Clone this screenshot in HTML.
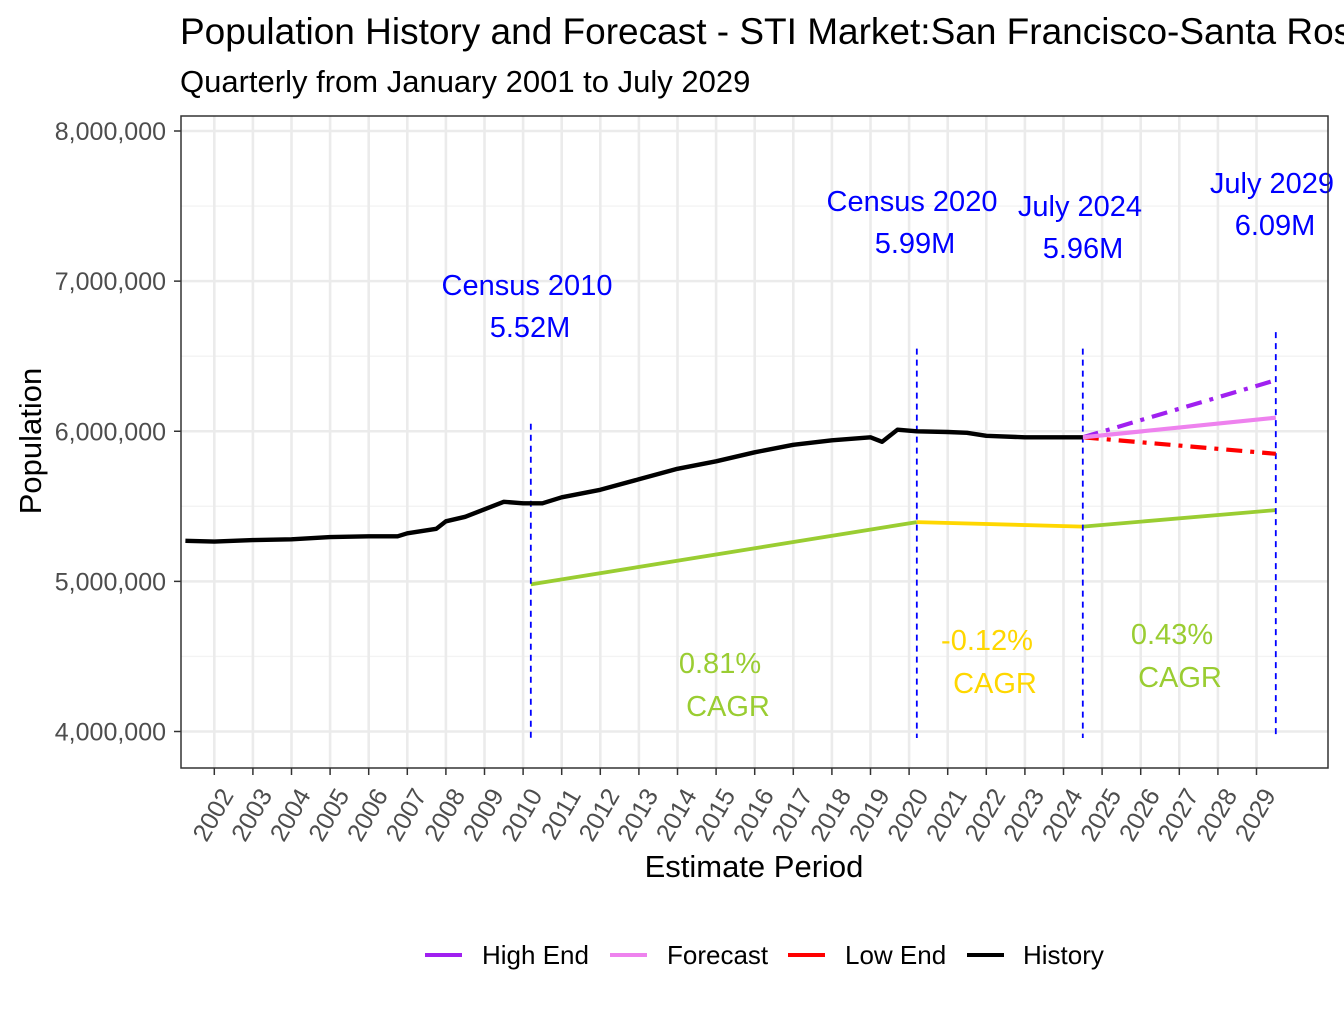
<!DOCTYPE html>
<html><head><meta charset="utf-8"><style>
body{margin:0;background:#fff}
svg text{font-family:"Liberation Sans",Arial,sans-serif}
</style></head><body>
<svg id="chart" width="1344" height="1008" viewBox="0 0 1344 1008" xmlns="http://www.w3.org/2000/svg">
<rect width="1344" height="1008" fill="#fff"/>
<text x="180" y="44" font-size="37" fill="#000">Population History and Forecast - STI Market:San Francisco-Santa Rosa</text>
<text x="180" y="92" font-size="31" fill="#000">Quarterly from January 2001 to July 2029</text>
<g id="grid"></g>
<g id="marks"></g>
<g id="axes"></g>
<rect x="181" y="116" width="1147" height="652" fill="none" stroke="#333" stroke-width="1.5"/>
<text transform="translate(41,441) rotate(-90)" text-anchor="middle" font-size="31" fill="#000">Population</text>
<text x="754" y="877" text-anchor="middle" font-size="31" fill="#000">Estimate Period</text>
<g font-size="26">
<g><line x1="425" y1="955" x2="462" y2="955" stroke="#a020f0" stroke-width="4"/><text x="482" y="964">High End</text></g>
<g><line x1="610" y1="955" x2="647" y2="955" stroke="#ee82ee" stroke-width="4"/><text x="667" y="964">Forecast</text></g>
<g><line x1="788" y1="955" x2="825" y2="955" stroke="#ff0000" stroke-width="4"/><text x="845" y="964">Low End</text></g>
<g><line x1="967" y1="955" x2="1004" y2="955" stroke="#000" stroke-width="4"/><text x="1023" y="964">History</text></g>
</g>
</svg>
<script>
const yTicks=[4000000,5000000,6000000,7000000,8000000];
const yTickLabels=["4,000,000","5,000,000","6,000,000","7,000,000","8,000,000"];
const xYears=[2002,2003,2004,2005,2006,2007,2008,2009,2010,2011,2012,2013,2014,2015,2016,2017,2018,2019,2020,2021,2022,2023,2024,2025,2026,2027,2028,2029];
const histT=[2001.25,2002,2003,2004,2005,2006,2006.75,2007,2007.75,2008,2008.5,2009,2009.5,2010,2010.5,2011,2012,2013,2014,2015,2016,2017,2018,2019,2019.3,2019.7,2020.2,2021,2021.5,2022,2023,2024,2024.5];
const histV=[5.27,5.265,5.275,5.28,5.295,5.30,5.30,5.32,5.35,5.40,5.43,5.48,5.53,5.52,5.52,5.56,5.61,5.68,5.75,5.80,5.86,5.91,5.94,5.96,5.93,6.01,6.00,5.995,5.99,5.97,5.96,5.96,5.96];
const fcT=[2024.5,2029.5];
const forecastV=[5.96,6.09];
const highV=[5.96,6.34];
const lowV=[5.96,5.85];
const cagrT=[2010.2,2020.2,2024.5,2029.5];
const cagrV=[4.98,5.395,5.365,5.475];
const cagrLabels=["0.81%","-0.12%","0.43%"];
const markT=[2010.2,2020.2,2024.5,2029.5];
const markTop=[6.05,6.55,6.55,6.66];
const markTitles=["Census 2010","Census 2020","July 2024","July 2029"];
const markValues=["5.52M","5.99M","5.96M","6.09M"];

const NS="http://www.w3.org/2000/svg";
const X=t=>214.3+(t-2002)*38.6;
const Y=v=>731.5-(v-4000000)*600.5/4000000;
const YM=m=>Y(m*1e6);
function mk(tag,attrs,parent,text){const e=document.createElementNS(NS,tag);for(const k in attrs)e.setAttribute(k,attrs[k]);if(text!==undefined)e.textContent=text;parent.appendChild(e);return e;}
const grid=document.getElementById('grid'),marks=document.getElementById('marks'),axes=document.getElementById('axes');
for(let i=0;i<yTicks.length;i++){
  const y=Y(yTicks[i]);
  const gl=mk('line',{x1:181,x2:1328,y1:y,y2:y,stroke:'#ebebeb','stroke-width':2.6},grid);
  
  
  if(i<yTicks.length-1){const ym=Y((yTicks[i]+yTicks[i+1])/2);
    const mg=mk('line',{x1:181,x2:1328,y1:ym,y2:ym,stroke:'#f3f3f3','stroke-width':1.3},grid);
    
    }
  const tk=mk('line',{x1:174,x2:181,y1:y,y2:y,stroke:'#333','stroke-width':1.5},axes);
  
  
  const tl=mk('text',{x:166,y:y+9,'text-anchor':'end','font-size':25,fill:'#4d4d4d'},axes,yTickLabels[i]);
  
  
}
for(const yr of xYears){
  const x=X(yr);
  const gl=mk('line',{x1:x,x2:x,y1:116,y2:768,stroke:'#ebebeb','stroke-width':2.6},grid);
  
  
  const tk=mk('line',{x1:x,x2:x,y1:768,y2:775,stroke:'#333','stroke-width':1.5},axes);
  
  
  const tl=mk('text',{transform:`translate(${x+20},${795}) rotate(-60)`,'text-anchor':'end','font-size':25,fill:'#4d4d4d'},axes,String(yr));
  
  
}
function line(ts,vs,color,w,dash,name){
  const p=ts.map((t,i)=>X(t).toFixed(1)+','+YM(vs[i]).toFixed(1)).join(' ');
  const a={points:p,fill:'none',stroke:color,'stroke-width':w,'stroke-linejoin':'round'};
  if(dash)a['stroke-dasharray']=dash;
  const e=mk('polyline',a,marks);
  
  
}
const cagrColors=['#9acd32','#ffd700','#9acd32'];
for(let i=0;i<3;i++){
  line([cagrT[i],cagrT[i+1]],[cagrV[i],cagrV[i+1]],cagrColors[i],3.8,null,'cagr-line-'+(i+1));
  const cx=i===0?724:(i===1?991:1176);
  const cy=i===0?673:(i===1?650:644);
  const t1=mk('text',{x:cx-4,y:cy,'text-anchor':'middle','font-size':29,fill:cagrColors[i]},marks,cagrLabels[i]);
  
  
  const t2=mk('text',{x:cx+4,y:cy+43,'text-anchor':'middle','font-size':29,fill:cagrColors[i]},marks,'CAGR');
  
  
}
const titleY=[295,211,216,193],valY=[337,253,258,235],titleX=[527,912,1080,1272];
for(let i=0;i<markT.length;i++){
  const x=X(markT[i]);
  const vl=mk('line',{x1:x,x2:x,y1:YM(markTop[i]),y2:738,stroke:'#0000ff','stroke-width':1.8,'stroke-dasharray':'6,5'},marks);
  
  
  const a=mk('text',{x:titleX[i],y:titleY[i],'text-anchor':'middle','font-size':29,fill:'#0000ff'},marks,markTitles[i]);
  
  
  const b=mk('text',{x:titleX[i]+3,y:valY[i],'text-anchor':'middle','font-size':29,fill:'#0000ff'},marks,markValues[i]);
  
  
}
line(fcT,highV,'#a020f0',4.2,'16,8,4,8','high-end-line');
line(fcT,lowV,'#ff0000',4.2,'16,8,4,8','low-end-line');
line(fcT,forecastV,'#ee82ee',4.2,null,'forecast-line');
line(histT,histV,'#000',4.4,null,'history-line');
</script>
</body></html>
